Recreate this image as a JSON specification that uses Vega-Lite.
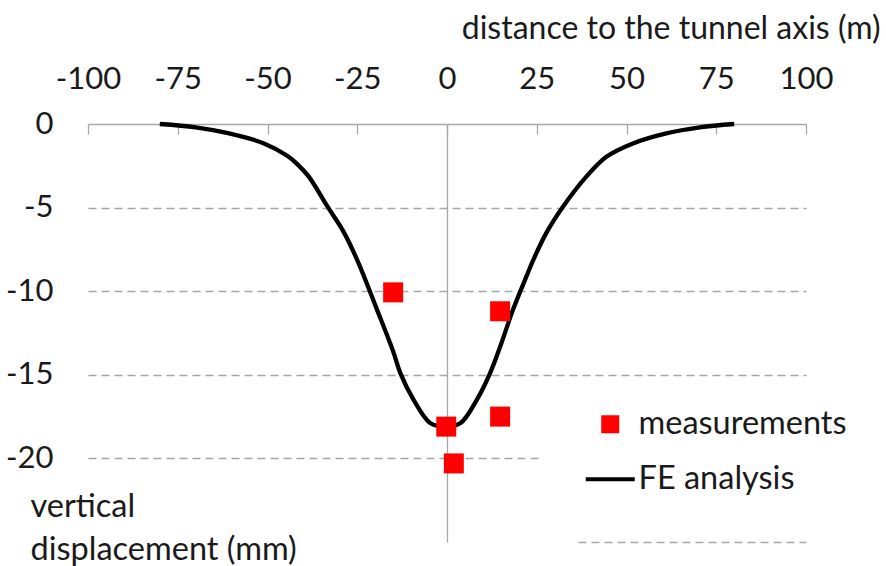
{
  "$schema": "https://vega.github.io/schema/vega-lite/v6.json",
  "width": 718,
  "height": 418,
  "autosize": {"type": "none"},
  "padding": {"left": 88, "top": 124, "right": 80, "bottom": 24},
  "background": "white",
  "config": {
    "view": {"stroke": null},
    "font": "Lato",
    "axis": {"labelFont": "Lato", "titleFont": "Lato", "labelColor": "#1a1a1a", "titleColor": "#1a1a1a", "titleFontWeight": "normal"},
    "legend": {"labelFont": "Lato", "labelColor": "#1a1a1a"}
  },
  "datasets": {
    "fe": [
      {"x": -80, "y": 0, "series": "FE analysis"},
      {"x": -70, "y": -0.2, "series": "FE analysis"},
      {"x": -61, "y": -0.55, "series": "FE analysis"},
      {"x": -51, "y": -1.16, "series": "FE analysis"},
      {"x": -44.5, "y": -1.9, "series": "FE analysis"},
      {"x": -41.7, "y": -2.4, "series": "FE analysis"},
      {"x": -38.5, "y": -3.15, "series": "FE analysis"},
      {"x": -33.4, "y": -4.9, "series": "FE analysis"},
      {"x": -28.8, "y": -6.45, "series": "FE analysis"},
      {"x": -25, "y": -8.14, "series": "FE analysis"},
      {"x": -19.5, "y": -11.1, "series": "FE analysis"},
      {"x": -15, "y": -13.6, "series": "FE analysis"},
      {"x": -13, "y": -14.9, "series": "FE analysis"},
      {"x": -9.3, "y": -16.5, "series": "FE analysis"},
      {"x": -4.6, "y": -17.9, "series": "FE analysis"},
      {"x": -0.5, "y": -18.1, "series": "FE analysis"},
      {"x": 3.7, "y": -17.9, "series": "FE analysis"},
      {"x": 8.3, "y": -16.5, "series": "FE analysis"},
      {"x": 12, "y": -14.9, "series": "FE analysis"},
      {"x": 15, "y": -13.2, "series": "FE analysis"},
      {"x": 18.4, "y": -11.1, "series": "FE analysis"},
      {"x": 22.1, "y": -9.13, "series": "FE analysis"},
      {"x": 24.1, "y": -8.1, "series": "FE analysis"},
      {"x": 27.6, "y": -6.54, "series": "FE analysis"},
      {"x": 32.3, "y": -4.95, "series": "FE analysis"},
      {"x": 38.8, "y": -3.15, "series": "FE analysis"},
      {"x": 44.4, "y": -1.96, "series": "FE analysis"},
      {"x": 51.8, "y": -1.16, "series": "FE analysis"},
      {"x": 61.1, "y": -0.56, "series": "FE analysis"},
      {"x": 70.4, "y": -0.2, "series": "FE analysis"},
      {"x": 80, "y": 0, "series": "FE analysis"}
    ],
    "meas": [
      {"x": -15, "y": -10.07, "series": "measurements"},
      {"x": 14.8, "y": -11.2, "series": "measurements"},
      {"x": -0.2, "y": -18.1, "series": "measurements"},
      {"x": 14.8, "y": -17.5, "series": "measurements"},
      {"x": 1.9, "y": -20.3, "series": "measurements"}
    ]
  },
  "encoding": {
    "x": {
      "field": "x",
      "type": "quantitative",
      "scale": {"domain": [-100, 100], "nice": false, "zero": false},
      "axis": {
        "orient": "top",
        "values": [-100, -75, -50, -25, 0, 25, 50, 75, 100],
        "labelExpr": "'' + datum.value",
        "title": "distance to the tunnel axis (m)",
        "titleFontSize": 32,
        "titleAlign": "right",
        "titleAnchor": null,
        "titleX": 792,
        "titleY": -86,
        "titleBaseline": "alphabetic",
        "labelFontSize": 31,
        "labelBaseline": "alphabetic",
        "labelPadding": 46,
        "labelFlush": false,
        "labelOverlap": false,
        "domainColor": "#A6A6A6",
        "domainWidth": 1.3,
        "tickColor": "#A6A6A6",
        "tickWidth": 1.3,
        "tickSize": -10,
        "grid": true,
        "gridColor": "#A6A6A6",
        "gridWidth": 1.3,
        "gridOpacity": {"condition": {"test": "datum.value === 0", "value": 1}, "value": 0}
      }
    },
    "y": {
      "field": "y",
      "type": "quantitative",
      "scale": {"domain": [-25, 0], "nice": false, "zero": false},
      "axis": {
        "orient": "left",
        "values": [0, -5, -10, -15, -20, -25],
        "labelExpr": "datum.value === -25 ? '' : '' + datum.value",
        "labelFontSize": 31,
        "labelPadding": 35,
        "labelBaseline": "middle",
        "domain": false,
        "ticks": false,
        "grid": true,
        "gridColor": "#A6A6A6",
        "gridWidth": 1.3,
        "gridOpacity": {"condition": {"test": "datum.value === 0", "value": 0}, "value": 1},
        "gridDash": {
          "condition": [
            {"test": "datum.value === -25", "value": [0, 490, 8, 5, 8, 5, 8, 5, 8, 5, 8, 5, 8, 5, 8, 5, 8, 5, 8, 5, 8, 5, 8, 5, 8, 5, 8, 5, 8, 5, 8, 5, 8, 5, 8, 5, 8, 5, 8, 5]},
            {"test": "datum.value === -20", "value": [8, 5, 8, 5, 8, 5, 8, 5, 8, 5, 8, 5, 8, 5, 8, 5, 8, 5, 8, 5, 8, 5, 8, 5, 8, 5, 8, 5, 8, 5, 8, 5, 8, 5, 8, 5, 8, 5, 8, 5, 8, 5, 8, 5, 8, 5, 8, 5, 8, 5, 8, 5, 8, 5, 8, 5, 8, 5, 8, 5, 8, 5, 8, 5, 8, 5, 8, 5, 8, 400]}
          ],
          "value": [8, 5]
        },
        "title": ["vertical", "displacement (mm)"],
        "titleFontSize": 32.5,
        "titleAngle": 0,
        "titleAlign": "left",
        "titleAnchor": null,
        "titleBaseline": "alphabetic",
        "titleX": -58,
        "titleY": 392,
        "titleLineHeight": 43
      }
    },
    "color": {
      "field": "series",
      "type": "nominal",
      "scale": {"domain": ["measurements", "FE analysis"], "range": ["#FF0000", "#000000"]},
      "legend": {
        "title": null,
        "orient": "none",
        "legendX": 506,
        "legendY": 284,
        "padding": 0,
        "labelFontSize": 32.5,
        "labelLimit": 400,
        "labelOffset": 12,
        "rowPadding": 22,
        "symbolSize": 2401,
        "symbolStrokeWidth": 4,
        "encode": {
          "symbols": {
            "update": {
              "shape": {"signal": "datum.value === 'FE analysis' ? 'stroke' : 'square'"},
              "size": {"signal": "datum.value === 'FE analysis' ? 2401 : 324"},
              "fill": {"signal": "datum.value === 'FE analysis' ? 'transparent' : '#FF0000'"},
              "stroke": {"signal": "datum.value === 'FE analysis' ? '#000000' : 'transparent'"},
              "strokeWidth": {"signal": "datum.value === 'FE analysis' ? 4 : 0"},
              "opacity": {"value": 1}
            }
          }
        }
      }
    }
  },
  "layer": [
    {
      "data": {"name": "fe"},
      "mark": {"type": "line", "strokeWidth": 4.3, "interpolate": "catmull-rom"}
    },
    {
      "data": {"name": "meas"},
      "mark": {"type": "point", "shape": "square", "filled": true, "size": 400, "opacity": 1}
    }
  ]
}
